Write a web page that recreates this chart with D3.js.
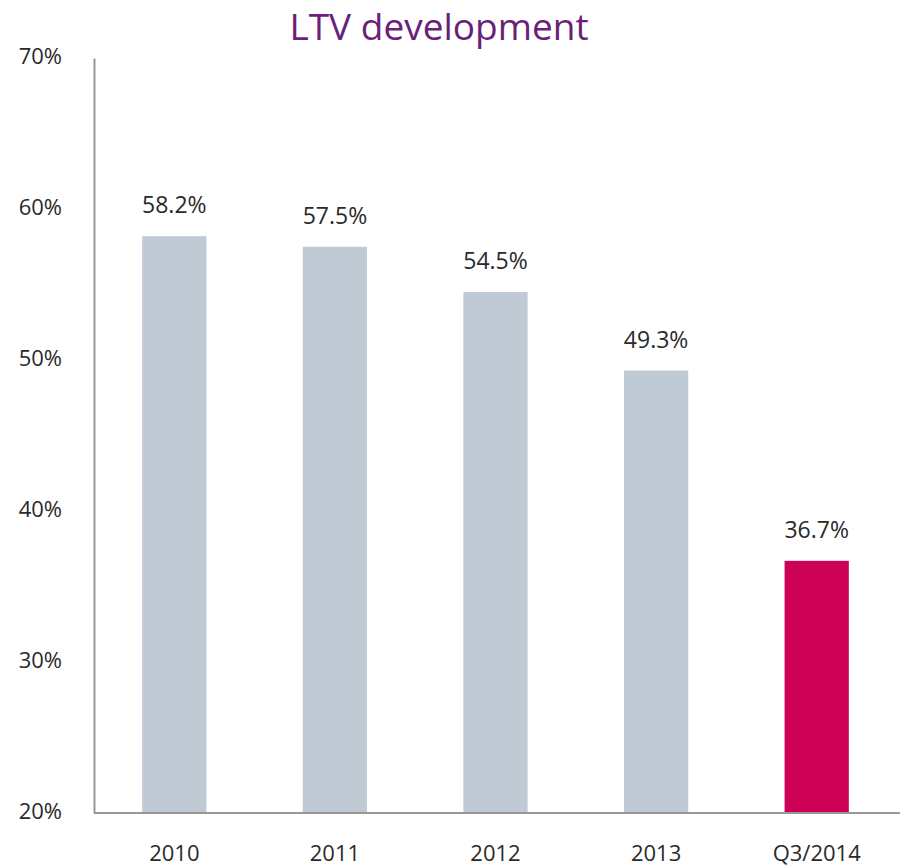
<!DOCTYPE html>
<html>
<head>
<meta charset="utf-8">
<script src="https://cdn.jsdelivr.net/npm/d3@7"></script>
<style>
  body { margin: 0; background: #fff; }
  text { font-family: "Open Sans", "Noto Sans", sans-serif; }
</style>
</head>
<body>
<script>
var categories = ["2010", "2011", "2012", "2013", "Q3/2014"];
var values = [58.2, 57.5, 54.5, 49.3, 36.7];
var barColors = ["#bfcad5", "#bfcad5", "#bfcad5", "#bfcad5", "#cc0055"];
var yTicks = [20, 30, 40, 50, 60, 70];

var w = 901, h = 867;

var svg = d3.select("body").append("svg")
    .attr("width", w)
    .attr("height", h);

var x = d3.scaleBand()
    .domain(categories)
    .range([94, 897])
    .paddingInner(0.6)
    .paddingOuter(0.3);

var y = d3.scaleLinear()
    .domain([20, 70])
    .range([813, 58]);

// title
svg.append("text")
    .attr("x", 439)
    .attr("y", 40)
    .attr("text-anchor", "middle")
    .style("font-size", "37px")
    .style("fill", "#6b1f78")
    .text("LTV development");

// bars
svg.selectAll("rect.bar")
    .data(values)
    .enter()
    .append("rect")
    .attr("class", "bar")
    .attr("x", function(d, i) { return x(categories[i]); })
    .attr("y", function(d) { return y(d); })
    .attr("width", x.bandwidth())
    .attr("height", function(d) { return y(20) - y(d); })
    .attr("fill", function(d, i) { return barColors[i]; });

// value labels
svg.selectAll("text.val")
    .data(values)
    .enter()
    .append("text")
    .attr("class", "val")
    .attr("x", function(d, i) { return x(categories[i]) + x.bandwidth() / 2; })
    .attr("y", function(d) { return y(d) - 23; })
    .attr("text-anchor", "middle")
    .style("font-size", "23px")
    .style("fill", "#2a2a2a")
    .text(function(d) { return d.toFixed(1) + "%"; });

// y axis
var yAxis = svg.append("g")
    .attr("transform", "translate(94,0)")
    .call(d3.axisLeft(y).tickValues(yTicks).tickSize(0).tickPadding(32)
        .tickFormat(function(d) { return d + "%"; }));
yAxis.select(".domain").attr("stroke", "#999").attr("stroke-width", 2);
yAxis.selectAll("text")
    .style("font-size", "22px")
    .style("fill", "#2a2a2a")
    .style("font-family", "'Open Sans', sans-serif")
    .attr("dy", "0.26em");

// x axis
var xAxis = svg.append("g")
    .attr("transform", "translate(0,813)")
    .call(d3.axisBottom(x).tickSize(0).tickPadding(32));
xAxis.select(".domain").attr("d", "M94,0H900").attr("stroke", "#999").attr("stroke-width", 2);
xAxis.selectAll("text")
    .style("font-size", "22px")
    .style("fill", "#2a2a2a")
    .style("font-family", "'Open Sans', sans-serif");
</script>
</body>
</html>
